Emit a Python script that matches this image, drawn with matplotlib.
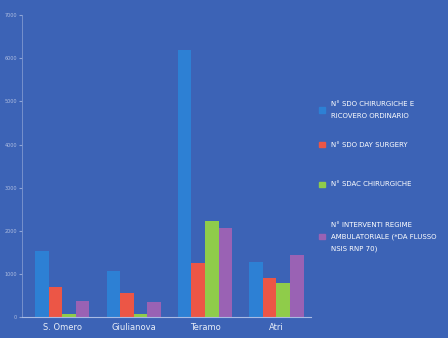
import numpy as np
import matplotlib.pyplot as plt
from matplotlib.patches import Rectangle

# data
sites = ["S. Omero", "Giulianova", "Teramo", "Atri"]
sdo_ordinario = [1530, 1070, 6200, 1280]
sdo_day_surgery = [700, 560, 1250, 910]
sdac_chirurgiche = [70, 60, 2230, 790]
ambulatoriale = [380, 350, 2070, 1440]
yticks = [0, 1000, 2000, 3000, 4000, 5000, 6000, 7000]

labels = ["N° SDO CHIRURGICHE E\nRICOVERO ORDINARIO",
          "N° SDO DAY SURGERY",
          "N° SDAC CHIRURGICHE",
          "N° INTERVENTI REGIME\nAMBULATORIALE (*DA FLUSSO\nNSIS RNP 70)"]

bg = "#3c63b6"
colors = ["#2d80d4", "#ec5646", "#8fcc4a", "#9a62b4"]

fig = plt.figure(figsize=(4.48, 3.38), dpi=100, facecolor=bg)
ax = fig.add_axes([0.05, 0.062, 0.645, 0.893])
ax.set_facecolor(bg)

x = np.arange(len(sites))
w = 0.19
series = [sdo_ordinario, sdo_day_surgery, sdac_chirurgiche, ambulatoriale]
for i, s in enumerate(series):
    ax.bar(x + (i - 1.5) * w, s, w, color=colors[i])

ax.set_xlim(-0.56, 3.49)
ax.set_ylim(0, 7000)
ax.set_yticks(yticks)
ax.set_yticklabels([str(t) for t in yticks], fontsize=3.5, color="#aebde0")
ax.set_xticks(x)
ax.set_xticklabels(sites, fontsize=6, color="#e8eef8")
ax.tick_params(axis="y", length=2, color="#8fa6d8", pad=2)
ax.tick_params(axis="x", length=0, pad=4)
for sp in ["top", "right"]:
    ax.spines[sp].set_visible(False)
ax.spines["left"].set_color("#7f98d0")
ax.spines["bottom"].set_color("#a9bbe4")
ax.spines["left"].set_linewidth(0.6)
ax.spines["bottom"].set_linewidth(0.8)

# legend on the right, placed by hand
ly = [0.675, 0.572, 0.455, 0.30]
for i, lab in enumerate(labels):
    fig.patches.append(Rectangle((0.712, ly[i] - 0.008), 0.014, 0.016,
                                 transform=fig.transFigure, color=colors[i]))
    fig.text(0.738, ly[i], lab, fontsize=5, color="white",
             va="center", ha="left", linespacing=2.1)

fig.savefig("out.png", dpi=100, facecolor=bg)
